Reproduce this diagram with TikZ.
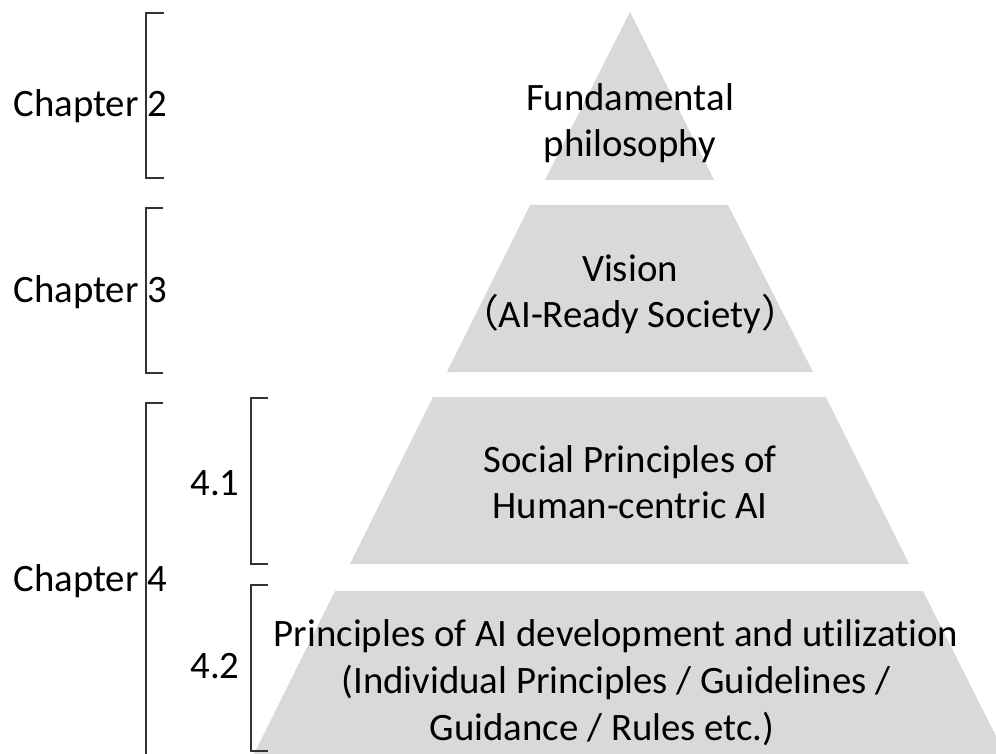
\documentclass[tikz,border=0pt]{standalone}
\usepackage{fontspec}
\setmainfont{Carlito}[Ligatures=NoCommon]
\newfontfamily\cjk{Noto Sans CJK JP}
\definecolor{tiergray}{HTML}{D9D9D9}
\tikzset{
  tier/.style={fill=tiergray},
  lbl/.style={font=\fontsize{19.4}{23}\selectfont, inner sep=0pt, align=center},
  brk/.style={draw=black!80, line width=0.7pt}
}
\begin{document}
\begin{tikzpicture}[x=0.5pt,y=-0.5pt]
\useasboundingbox (0,0) rectangle (996,754);
% pyramid tiers
\fill[tier] (630,12) -- (714,180) -- (545,180) -- cycle;
\fill[tier] (530,205) -- (728,205) -- (813,372) -- (447,372) -- cycle;
\fill[tier] (433,397) -- (826,397) -- (909,564) -- (350,564) -- cycle;
\begin{scope}
\clip (0,0) rectangle (996,754);
\fill[tier] (335,591) -- (923,591) -- (1005,754) -- (254,754) -- cycle;
\end{scope}

% tier texts (base = last line)
\node[lbl,anchor=base] (t1) at (630,157) {Fundamental\\philosophy};
\node[lbl,anchor=base] (t2) at (630,328) {Vision\\{\cjk （}AI-Ready Society{\cjk ）}};
\node[lbl,anchor=base] (t3) at (630,518) {Social Principles of\\Human-centric AI};
\node[lbl,anchor=base,font=\fontsize{19.4}{23.5}\selectfont] (t4) at (616,740)
  {Principles of AI development and utilization\\(Individual Principles / Guidelines /\\Guidance / Rules etc.)\hspace*{14pt}};

% chapter labels
\node[lbl,anchor=base west] (ch2) at (13,117) {Chapter 2};
\node[lbl,anchor=base west] (ch3) at (13,303) {Chapter 3};
\node[lbl,anchor=base west] (ch4) at (13,591) {Chapter 4};
\node[lbl,anchor=base west] (s41) at (190,495) {4.1};
\node[lbl,anchor=base west] (s42) at (190,678) {4.2};

% brackets
\coordinate (b2t) at (164,13);  \coordinate (b2b) at (164,178);
\coordinate (b3t) at (163,208); \coordinate (b3b) at (163,373);
\coordinate (b4t) at (163,403); \coordinate (b4b) at (146,754);
\coordinate (b41t) at (268,398); \coordinate (b41b) at (268,564);
\coordinate (b42t) at (268,585); \coordinate (b42b) at (268,751);
\draw[brk] (b2t) -- ++(-18,0) |- (b2b);
\draw[brk] (b3t) -- ++(-17,0) |- (b3b);
\draw[brk] (b4t) -- ++(-17,0) -- (b4b);
\draw[brk] (b41t) -- ++(-17,0) |- (b41b);
\draw[brk] (b42t) -- ++(-17,0) |- (b42b);
\end{tikzpicture}
\end{document}
